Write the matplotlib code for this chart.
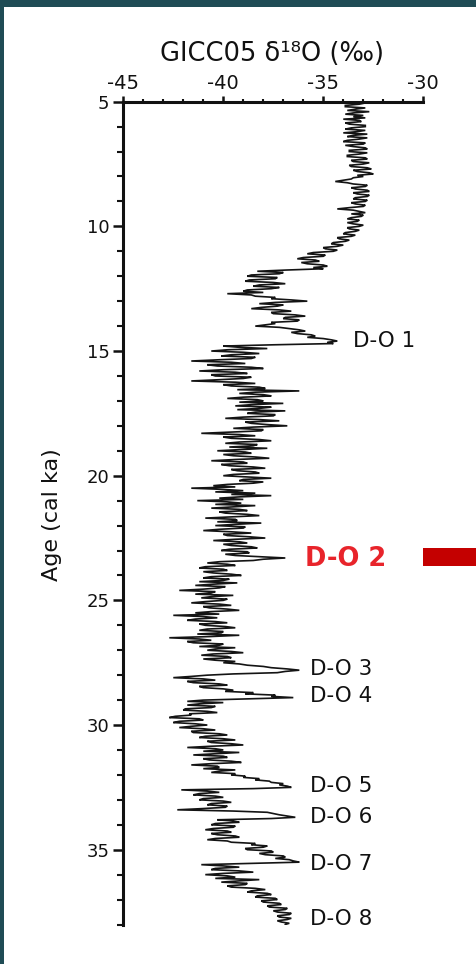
import numpy as np
import matplotlib
matplotlib.use("Agg")
import matplotlib.pyplot as plt
from matplotlib.patches import Rectangle
from matplotlib.ticker import MultipleLocator

plt.rcParams['axes.unicode_minus'] = False
plt.rcParams['font.family'] = ['DejaVu Sans']

# ---------------- data (GICC05 d18O, 0.05 ka steps) ----------------
AGE_STEP = 0.05

holocene_start = 5.0
holocene = [-33.6, -32.9, -33.2, -33.9, -33.9, -32.9, -33.4, -33.8, -32.7, -33.5,
            -33.9, -33.0, -33.5, -32.9, -34.0, -33.2, -33.1, -33.9, -33.7, -32.9,
            -32.9, -33.6, -33.9, -32.9, -33.3, -34.0, -32.8, -33.5, -33.8, -32.8,
            -33.2, -33.8, -34.0, -32.9, -33.0, -33.9, -33.5, -32.9, -32.8, -33.7,
            -33.7, -32.8, -33.2, -33.8, -33.8, -32.9, -32.8, -33.6, -33.5, -32.7,
            -33.0, -33.7, -33.6, -32.8, -32.6, -33.5, -33.3, -32.7, -32.5, -33.3]

early_holocene_start = 8.0
early_holocene = [-33.0, -33.5, -33.6, -34.0, -34.4, -33.8, -33.5, -32.8, -32.9, -33.6,
                  -33.4, -32.8, -32.7, -33.5, -33.3, -32.7, -32.8, -33.4, -33.5, -32.8,
                  -32.9, -33.6, -33.4, -32.9, -33.0, -33.7, -34.3, -33.5, -33.2, -32.9,
                  -33.6, -33.0, -33.1, -33.6, -33.8, -33.2, -33.3, -33.8, -33.5, -33.0,
                  -33.2, -33.8, -33.7, -33.2, -33.4, -33.9, -34.0, -33.4, -33.6, -34.3,
                  -34.2, -33.7, -33.9, -34.5, -34.6, -34.0, -34.3, -35.0, -34.9, -34.3,
                  -34.5, -35.5, -35.8, -34.9, -35.0, -36.0, -36.3, -35.4, -35.2, -36.1,
                  -35.8, -35.0, -34.8, -35.5, -35.0, -36.8]

deglacial_start = 11.8
deglacial = [-38.3, -37.0, -37.2, -38.6, -38.8, -37.3, -37.4, -38.7, -38.9, -37.5,
             -36.9, -38.2, -38.5, -37.2, -37.6, -38.8, -39.0, -38.0, -39.8, -38.6,
             -38.4, -37.4, -37.6, -36.6, -35.8, -37.4, -38.2, -37.0, -37.3, -38.1,
             -38.6, -37.2, -36.6, -37.6, -37.5, -36.4, -35.9, -36.9, -37.0, -36.2,
             -36.3, -37.6, -37.4, -37.9, -38.4, -37.2, -36.7, -36.2, -35.9, -36.6,
             -36.3, -35.6, -35.4, -35.8, -35.0, -34.6, -34.3, -34.8, -34.5, -37.5]

glacial_max_start = 14.8
glacial_max = [-40.0, -39.2, -37.8, -39.8, -40.6, -39.0, -38.2, -39.6, -40.1, -38.4,
               -38.6, -40.2, -41.6, -39.6, -38.9, -40.8, -40.3, -38.6, -38.0, -40.0,
               -41.2, -39.4, -38.8, -40.6, -40.4, -38.6, -39.0, -40.2, -41.6, -39.4,
               -38.4, -40.0, -39.6, -38.2, -37.9, -39.3, -36.2, -38.4, -39.2, -38.0,
               -37.6, -39.0, -39.8, -38.3, -38.0, -39.2, -37.0, -38.6, -39.4, -37.6,
               -38.2, -39.3, -36.9, -38.4, -38.8, -37.4, -37.5, -39.0, -39.9, -38.2,
               -37.2, -38.9, -38.6, -37.8, -36.8, -38.5, -39.5, -38.0, -38.1, -39.6,
               -41.1, -39.2, -38.4, -40.0, -39.6, -38.2, -37.6, -39.2, -39.9, -38.3,
               -38.5, -39.7, -37.8, -39.1, -40.3, -38.9, -38.6, -40.0, -39.5, -38.4,
               -37.7, -39.4, -40.6, -39.0, -38.8, -40.1, -39.7, -38.5, -37.9, -39.6,
               -39.3, -38.4, -38.2, -39.5, -40.0, -38.8, -37.6, -39.0, -39.2, -38.0,
               -38.5, -39.8, -40.5, -39.4, -41.6, -40.0, -39.0, -40.4, -38.4, -39.6,
               -37.6, -39.2, -40.2, -39.0, -41.3, -39.8, -39.1, -40.4, -38.4, -39.5,
               -40.6, -39.2, -38.8, -40.2, -39.9, -38.8, -38.2, -39.6, -40.9, -39.4,
               -39.3, -40.3, -38.1, -39.4, -40.4, -38.9, -39.0, -40.2, -41.0, -39.6,
               -38.6, -40.0, -39.8, -38.7, -37.9, -39.4, -40.5, -39.2, -38.8, -40.0,
               -39.6, -38.6, -38.3, -39.7, -40.1, -38.8, -38.7, -39.9, -39.4, -38.2,
               -36.9, -38.0, -38.5, -40.2]

stadial_start = 23.5
stadial = [-40.8, -39.8, -39.4, -40.9, -41.2, -40.0, -39.8, -41.0, -40.5, -39.6,
           -39.1, -40.6, -41.0, -39.7, -40.0, -41.2, -39.3, -40.5, -41.4, -39.9,
           -40.2, -41.0, -42.2, -40.4, -40.6, -41.4, -39.5, -40.6, -41.1, -39.8,
           -40.0, -40.9, -41.6, -40.2, -39.6, -41.0, -40.7, -39.8, -39.2, -40.6,
           -41.4, -40.2, -42.5, -41.0, -40.3, -41.4, -41.8, -40.4, -39.8, -41.2,
           -40.9, -39.9, -39.4, -40.8, -41.2, -40.0, -40.1, -41.3, -39.2, -40.6,
           -42.7, -41.2, -40.6, -41.8, -41.5, -40.0, -40.2, -41.2, -39.4, -40.4,
           -40.8, -39.6, -39.0, -40.5, -41.1, -39.8, -39.6, -41.0, -40.4, -39.4,
           -40.0, -39.2, -38.8, -38.0, -37.6, -36.8, -36.2, -36.9, -37.3, -39.5]

mis3_a_start = 28.0
mis3_a = [-40.8, -41.6, -42.5, -41.0, -40.4, -41.8, -41.5, -40.2, -39.8, -41.2,
          -41.0, -40.0, -39.5, -39.9, -38.5, -38.9, -37.4, -37.6, -36.5, -38.8,
          -41.0, -41.8, -40.0, -41.2, -41.8, -40.4, -40.6, -41.9, -42.0, -40.8,
          -40.3, -41.7, -41.6, -42.4, -42.7, -41.2, -41.0, -42.2, -42.5, -41.4,
          -40.8, -41.6, -42.2, -41.0, -40.4, -41.6, -41.5, -40.2, -39.8, -40.9,
          -41.2, -40.0, -39.4, -40.8, -40.6, -39.6, -39.0, -40.6, -41.8, -40.4,
          -40.0, -41.0, -39.2, -40.4, -41.5, -40.0, -39.8, -41.0, -40.7, -39.6,
          -39.1, -40.6, -41.6, -40.3, -40.2, -41.0, -39.4, -40.2, -40.6, -39.4,
          -39.6, -38.9, -39.0, -38.2, -38.4, -37.7, -37.6, -37.0, -37.2, -36.8,
          -36.6, -38.5]

mis3_b_start = 32.6
mis3_b = [-42.1, -40.8, -40.2, -41.2, -41.5, -40.4, -40.0, -41.0, -41.2, -40.0,
          -39.6, -40.6, -40.8, -39.8, -39.9, -41.0, -42.3, -39.5, -37.8, -37.5,
          -37.2, -36.8, -36.4, -37.6, -40.3, -39.5, -39.2, -40.4, -40.6, -39.4,
          -39.5, -40.5, -40.9, -39.8, -39.6, -40.6, -40.3, -39.4, -39.2, -40.4,
          -40.8, -39.8, -39.6, -38.4, -38.6, -37.8, -38.0, -38.9, -38.8, -37.6,
          -37.5, -38.2, -37.9, -37.0, -36.9, -37.4, -36.7, -36.5, -36.2, -38.6,
          -41.1, -40.0, -39.2, -40.4, -40.6, -39.2, -38.5, -40.0, -40.9, -39.8,
          -39.4, -40.4, -38.2, -39.2, -40.1, -38.8, -38.9, -39.8, -39.6, -38.4,
          -37.9, -38.6, -38.8, -37.8, -37.6, -38.3, -38.4, -37.4, -37.3, -38.1,
          -38.0, -37.2, -37.1, -37.8, -37.7, -36.8, -36.9, -37.5, -37.3, -36.6,
          -36.7, -37.3, -37.2, -36.6, -36.8, -37.3, -37.1, -36.7, -36.9]

do_labels = ["D-O 1", "D-O 2", "D-O 3", "D-O 4", "D-O 5", "D-O 6", "D-O 7", "D-O 8"]
do_label_age = [14.83, 23.62, 27.99, 29.08, 32.69, 33.93, 35.82, 38.03]
do_label_x = [-33.5, -35.9, -35.65, -35.65, -35.65, -35.65, -35.65, -35.65]

x_ticks = [-45, -40, -35, -30]
y_ticks = [5, 10, 15, 20, 25, 30, 35]

segments = [(holocene_start, holocene), (early_holocene_start, early_holocene),
            (deglacial_start, deglacial), (glacial_max_start, glacial_max),
            (stadial_start, stadial), (mis3_a_start, mis3_a), (mis3_b_start, mis3_b)]
age = np.concatenate([s + AGE_STEP * np.arange(len(v)) for s, v in segments])
d18o = np.concatenate([np.array(v) for _, v in segments])

# ---------------- figure ----------------
W, H = 477, 964
fig = plt.figure(figsize=(W / 100, H / 100), dpi=100)
fig.patch.set_facecolor('#1f4c55')
fig.add_artist(Rectangle((4 / W, 0), 472 / W, 957 / H, transform=fig.transFigure,
                         facecolor='white', edgecolor='none', zorder=0))

ax = fig.add_axes([123.3 / W, 1 - 924.5 / H, 300 / W, (924.5 - 101.7) / H])
ax.set_facecolor('none')
ax.plot(d18o, age, color='#141414', lw=1.2, solid_joinstyle='miter')

ax.set_xlim(-45, -30)
ax.set_ylim(38, 5)
ax.set_xticks(x_ticks)
ax.set_yticks(y_ticks)
ax.xaxis.set_minor_locator(MultipleLocator(1))
ax.yaxis.set_minor_locator(MultipleLocator(1))
ax.xaxis.tick_top()
for s in ['bottom', 'right']:
    ax.spines[s].set_visible(False)
for s in ['top', 'left']:
    ax.spines[s].set_linewidth(2.2)
    ax.spines[s].set_color('#111111')
ax.tick_params(axis='x', which='major', direction='out', length=4, width=1.8,
               pad=2, labelsize=14, colors='#111111')
ax.tick_params(axis='x', which='minor', direction='out', length=2.5, width=1.5, colors='#111111')
ax.tick_params(axis='y', which='major', direction='out', length=7, width=1.8,
               pad=3, labelsize=13, colors='#111111')
ax.tick_params(axis='y', which='minor', direction='out', length=4.5, width=1.5, colors='#111111')

for lab, a, x in zip(do_labels, do_label_age, do_label_x):
    if lab == "D-O 2":
        ax.text(x, a, lab, color='#e8242b', fontsize=18.5, fontweight='bold',
                ha='left', va='baseline')
    else:
        ax.text(x, a, lab, color='#111111', fontsize=15.5, ha='left', va='baseline')

fig.text(272 / W, 1 - 61 / H, "GICC05 δ¹⁸O (‰)", fontsize=18.5, ha='center',
         va='baseline', color='#111111')
fig.text(52 / W, 1 - 515 / H, "Age (cal ka)", fontsize=16, rotation=90,
         ha='center', va='center', color='#111111')

fig.add_artist(Rectangle((423 / W, 1 - 566 / H), 53 / W, 18 / H, transform=fig.transFigure,
                         facecolor='#c40000', edgecolor='none', zorder=3))

fig.savefig('out.png', dpi=100)
